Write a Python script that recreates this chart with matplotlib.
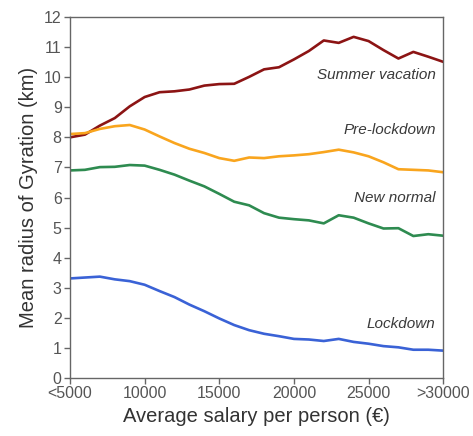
import matplotlib
matplotlib.use("Agg")
import matplotlib.pyplot as plt

salary = list(range(5000, 30001, 1000))

summer_vacation = [8.00, 8.09, 8.39, 8.64, 9.03, 9.34, 9.50, 9.53, 9.59, 9.72, 9.77, 9.78, 10.01,
                   10.26, 10.33, 10.59, 10.87, 11.22, 11.14, 11.34, 11.20, 10.90, 10.62, 10.84,
                   10.68, 10.51]
pre_lockdown = [8.11, 8.14, 8.28, 8.37, 8.41, 8.26, 8.03, 7.81, 7.62, 7.48, 7.31, 7.22, 7.33,
                7.31, 7.37, 7.40, 7.44, 7.51, 7.59, 7.50, 7.37, 7.17, 6.94, 6.92, 6.90, 6.84]
new_normal = [6.90, 6.92, 7.01, 7.02, 7.08, 7.06, 6.92, 6.76, 6.56, 6.37, 6.12, 5.86, 5.74,
              5.48, 5.33, 5.28, 5.24, 5.14, 5.41, 5.33, 5.14, 4.97, 4.98, 4.72, 4.78, 4.73]
lockdown = [3.31, 3.34, 3.37, 3.28, 3.22, 3.10, 2.89, 2.69, 2.44, 2.22, 1.98, 1.76, 1.59,
            1.47, 1.39, 1.30, 1.28, 1.23, 1.30, 1.20, 1.14, 1.06, 1.02, 0.94, 0.94, 0.91]

xticks = [5000, 10000, 15000, 20000, 25000, 30000]
xticklabels = ["<5000", "10000", "15000", "20000", "25000", ">30000"]
yticks = list(range(0, 13))

series = [
    ("Summer vacation", summer_vacation, "#8c1414", 10.07),
    ("Pre-lockdown", pre_lockdown, "#f9a51e", 8.23),
    ("New normal", new_normal, "#2e8b50", 5.97),
    ("Lockdown", lockdown, "#3a62d6", 1.80),
]

plt.rcParams['font.family'] = ['Liberation Sans', 'DejaVu Sans']

fig = plt.figure(figsize=(4.73, 4.36), dpi=100)
ax = fig.add_axes([0.148, 0.133, 0.789, 0.828])

for name, vals, color, ty in series:
    ax.plot(salary, vals, color=color, lw=1.9, solid_joinstyle='round')
    ax.text(29500, ty, name, ha='right', va='center', style='italic',
            fontsize=11, color='#3a3a3a')

ax.set_xlim(5000, 30000)
ax.set_ylim(0, 12)
ax.set_xticks(xticks)
ax.set_xticklabels(xticklabels)
ax.set_yticks(yticks)

for s in ax.spines.values():
    s.set_color('#666666')
    s.set_linewidth(1.0)
ax.tick_params(direction='out', length=4, width=1, colors='#666666',
               labelcolor='#555555', labelsize=11.5, pad=2)

ax.set_xlabel("Average salary per person (€)", fontsize=14.5, color='#333333', labelpad=4)
ax.set_ylabel("Mean radius of Gyration (km)", fontsize=14.5, color='#333333', labelpad=4)

fig.savefig("out.png", dpi=100)
